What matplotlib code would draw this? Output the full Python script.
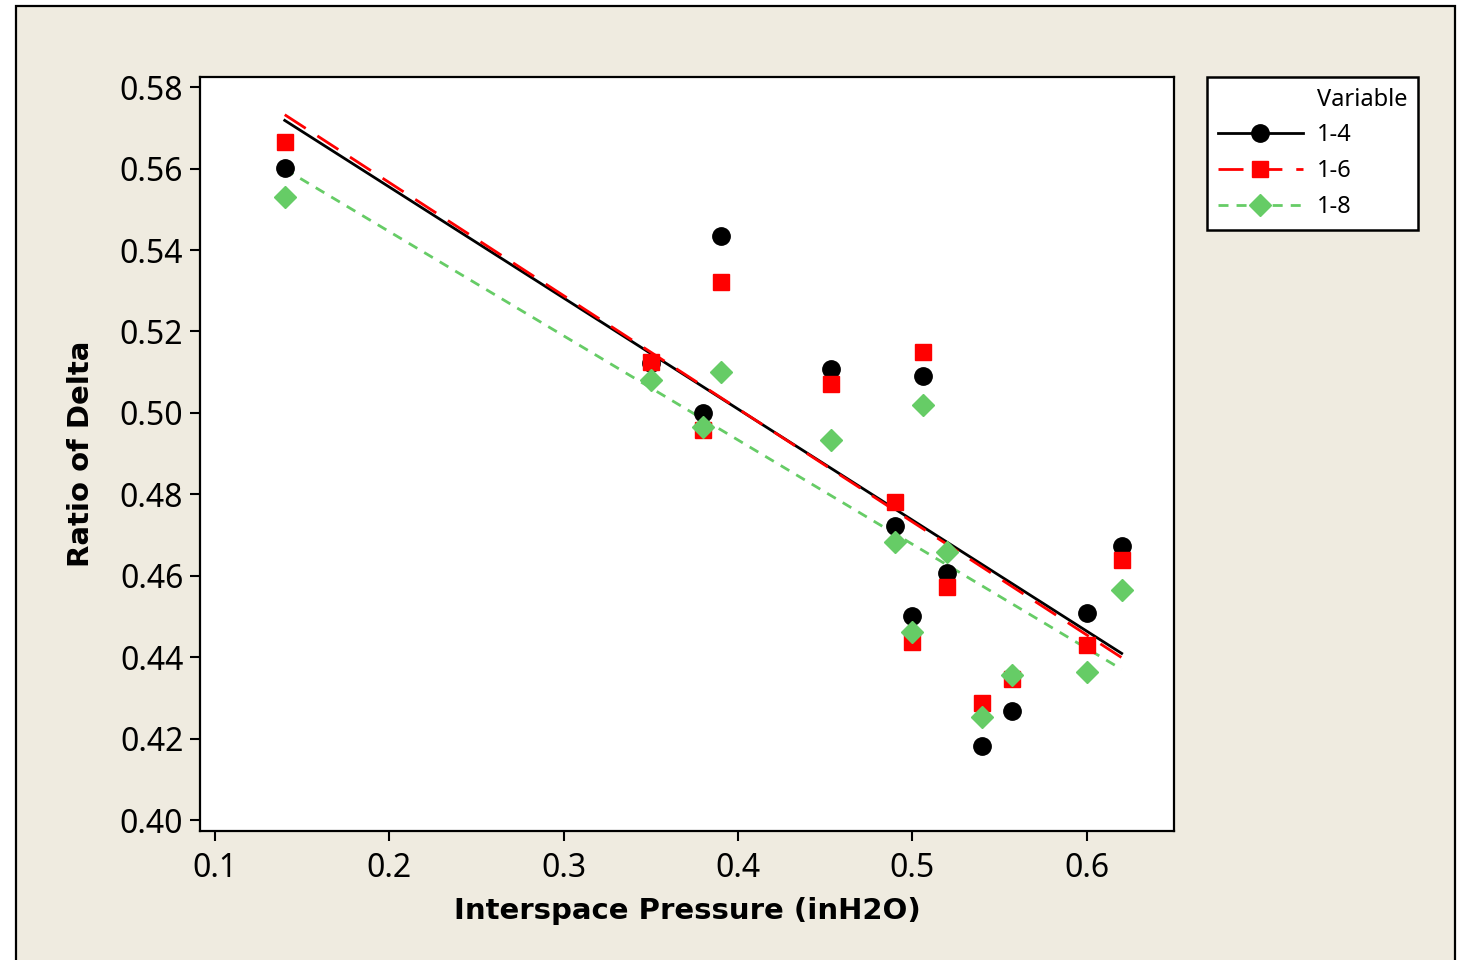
import matplotlib
matplotlib.use("Agg")
import matplotlib.pyplot as plt
from matplotlib.lines import Line2D
from matplotlib.patches import Rectangle
import numpy as np

# interspace pressure (inH2O) and ratio of delta per variable
pressure = [0.14, 0.35, 0.38, 0.39, 0.453, 0.49, 0.50, 0.506, 0.52, 0.54, 0.557, 0.60, 0.62]
ratio_1_4 = [0.5601, 0.5122, 0.4999, 0.5434, 0.5107, 0.4722, 0.4501, 0.5090,
             0.4606, 0.4182, 0.4268, 0.4508, 0.4673]
ratio_1_6 = [0.5665, 0.5125, 0.4958, 0.5321, 0.5071, 0.4781, 0.4437, 0.5149,
             0.4572, 0.4287, 0.4346, 0.4430, 0.4638]
ratio_1_8 = [0.5530, 0.5080, 0.4965, 0.5100, 0.4933, 0.4683, 0.4462, 0.5019,
             0.4658, 0.4253, 0.4356, 0.4363, 0.4565]
labels = ["1-4", "1-6", "1-8"]

BEIGE = "#efebe0"
GREEN = "#66cc66"

plt.rcParams["font.family"] = ["Noto Sans", "DejaVu Sans"]

W, H = 1458, 960
fig = plt.figure(figsize=(W / 100, H / 100), dpi=100, facecolor="white")
fig.patches.append(Rectangle((16 / W, -0.1), (1455 - 16) / W, 1 - 6 / H + 0.1,
                             transform=fig.transFigure, facecolor=BEIGE,
                             edgecolor="black", lw=1.6, zorder=-10))

ax = fig.add_axes([200 / W, 1 - 831 / H, (1174 - 200) / W, (831 - 77) / H])
ax.set_facecolor("white")

styles = [
    dict(color="black", marker="o", ms=12.5, ls="-", dashes=None, lw=2.0),
    dict(color="#ff0000", marker="s", ms=12, ls="--", dashes=(9, 5), lw=2.0),
    dict(color=GREEN, marker="D", ms=11.5, ls="--", dashes=(3.6, 2.9), lw=2.0),
]
xs = np.array(pressure)
handles = []
for i, (y, st) in enumerate(zip([ratio_1_4, ratio_1_6, ratio_1_8], styles)):
    # least-squares fit line per variable
    k, b = np.polyfit(xs, y, 1)
    xl = np.array([xs.min(), xs.max()])
    ln, = ax.plot(xl, k * xl + b, color=st["color"], lw=st["lw"], ls=st["ls"], zorder=2)
    if st["dashes"]:
        ln.set_dashes(st["dashes"])
    ax.plot(xs, y, ls="none", marker=st["marker"], ms=st["ms"], color=st["color"],
            mec=st["color"], zorder=3 + i)
    h = Line2D([], [], color=st["color"], lw=st["lw"], ls=st["ls"],
               marker=st["marker"], ms=st["ms"], mec=st["color"])
    if st["dashes"]:
        h.set_dashes(st["dashes"])
    handles.append(h)

ax.set_xlim(0.0914, 0.65)
ax.set_ylim(0.3973, 0.5825)
ax.set_xticks([0.1, 0.2, 0.3, 0.4, 0.5, 0.6])
ax.set_yticks(np.arange(0.40, 0.581, 0.02))
ax.yaxis.set_major_formatter(matplotlib.ticker.FormatStrFormatter("%.2f"))
ax.tick_params(direction="out", length=7, width=1.5, labelsize=23, pad=5, colors="black")
ax.tick_params(axis="x", pad=8)
for sp in ax.spines.values():
    sp.set_linewidth(1.6)

ax.set_xlabel("Interspace Pressure (inH2O)", fontsize=21, fontweight="bold",
              family="DejaVu Sans", labelpad=9)
ax.set_ylabel("Ratio of Delta", fontsize=21, fontweight="bold",
              family="DejaVu Sans", labelpad=18)

title_h = Line2D([], [], ls="none")
leg = fig.legend([title_h] + handles, ["Variable"] + labels,
                 loc="upper left", bbox_to_anchor=(1207 / W, 1 - 77 / H),
                 fontsize=17, frameon=True, fancybox=False, edgecolor="black",
                 facecolor="white", framealpha=1,
                 handlelength=3.6, handletextpad=0.6, labelspacing=0.5,
                 borderpad=0.45, borderaxespad=0)
leg.get_frame().set_linewidth(1.8)

fig.savefig("out.png", dpi=100, facecolor=fig.get_facecolor())
